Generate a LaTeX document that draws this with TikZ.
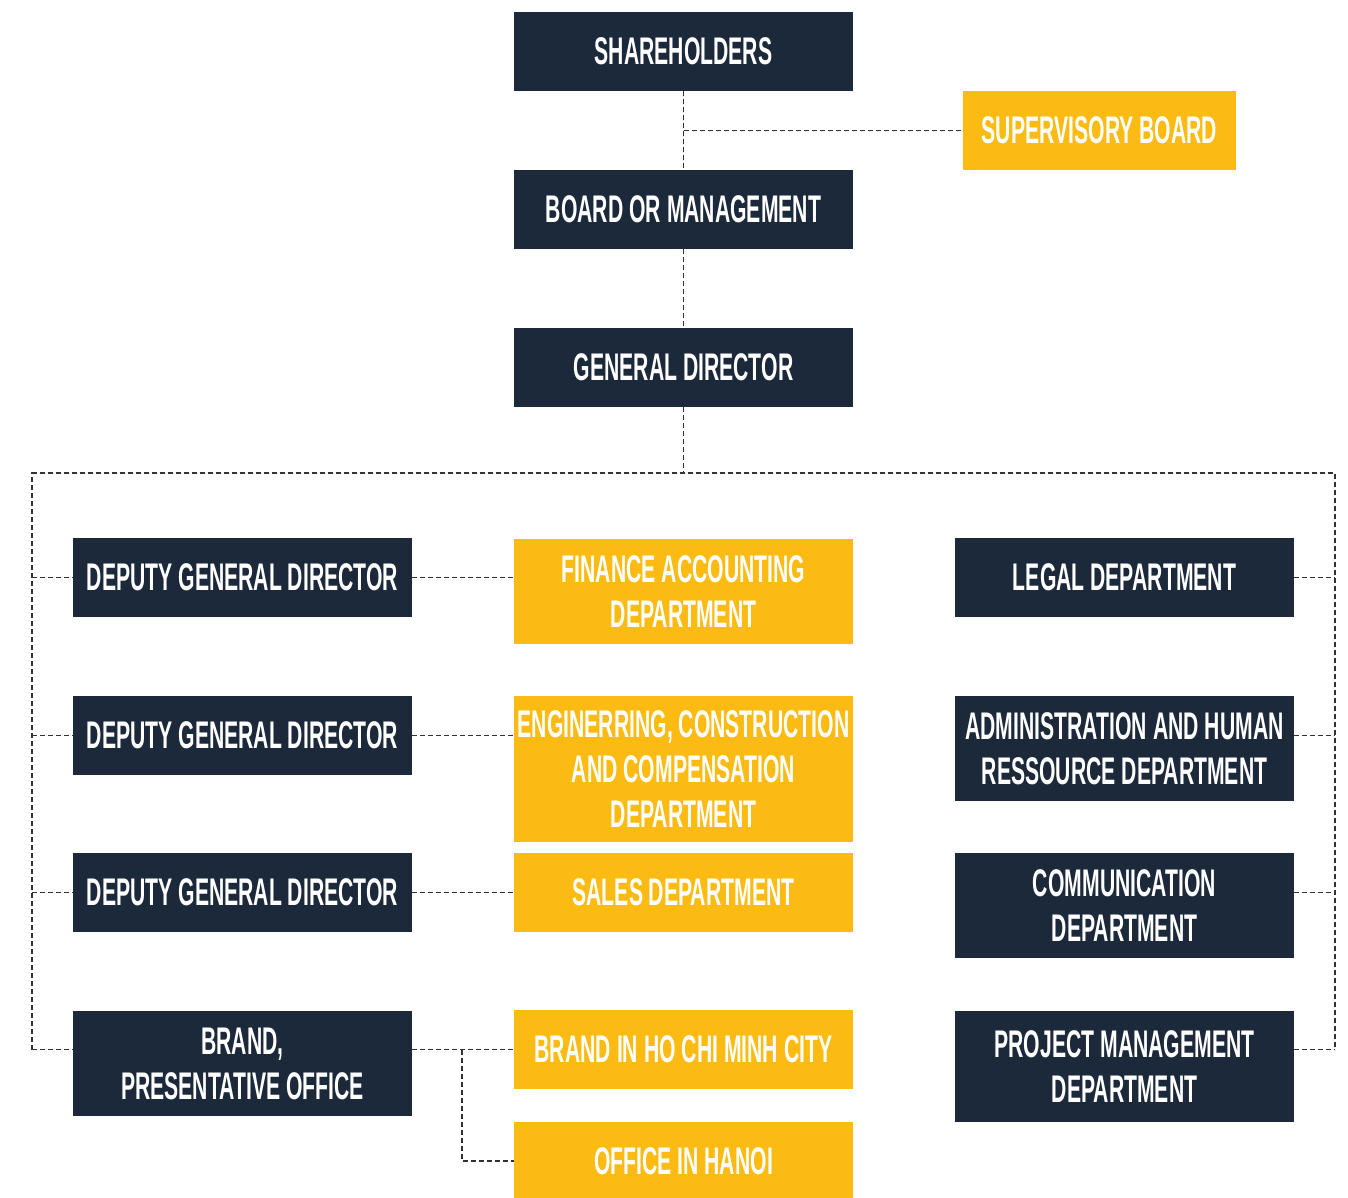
\documentclass[tikz,border=0pt]{standalone}
\usepackage{fontspec}
\newfontfamily\condfont{Liberation Sans}[FakeStretch=0.55]
\definecolor{navy}{RGB}{27,41,59}
\definecolor{gold}{RGB}{252,187,18}
\definecolor{linegray}{RGB}{50,50,50}
\begin{document}
\begin{tikzpicture}[x=1pt,y=-1pt,
  box/.style={inner sep=0pt, outer sep=0pt, text=white, align=center, minimum width=339pt,
    font=\condfont\bfseries\fontsize{38.5}{45}\selectfont},
  navybox/.style={box, fill=navy},
  goldbox/.style={box, fill=gold},
  link/.style={draw=linegray, line width=1.2pt, dash pattern=on 5pt off 3pt}]
\useasboundingbox[fill=white] (0,0) rectangle (1348,1198);

% top chain
\node[navybox, minimum height=79pt] (SH) at (683.5,51.5) {SHAREHOLDERS};
\node[goldbox, minimum height=79pt, minimum width=273pt] (SB) at (1099.5,130.5) {SUPERVISORY BOARD};
\node[navybox, minimum height=79pt] (BM) at (683.5,209.5) {BOARD OR MANAGEMENT};
\node[navybox, minimum height=79pt] (GD) at (683.5,367.5) {GENERAL DIRECTOR};

% left column
\node[navybox, minimum height=79pt] (DGD1) at (242.5,577.5) {DEPUTY GENERAL DIRECTOR};
\node[navybox, minimum height=79pt] (DGD2) at (242.5,735.5) {DEPUTY GENERAL DIRECTOR};
\node[navybox, minimum height=79pt] (DGD3) at (242.5,892.5) {DEPUTY GENERAL DIRECTOR};
\node[navybox, minimum height=105pt] (BRAND) at (242.5,1063.5) {BRAND,\\PRESENTATIVE OFFICE};

% middle column
\node[goldbox, minimum height=105pt] (FIN) at (683.5,591.5) {FINANCE ACCOUNTING\\DEPARTMENT};
\node[goldbox, minimum height=146pt] (ENG) at (683.5,769) {ENGINERRING, CONSTRUCTION\\AND COMPENSATION\\DEPARTMENT};
\node[goldbox, minimum height=79pt] (SALES) at (683.5,892.5) {SALES DEPARTMENT};
\node[goldbox, minimum height=79pt] (HCMC) at (683.5,1049.5) {BRAND IN HO CHI MINH CITY};
\node[goldbox, minimum height=78pt] (HANOI) at (683.5,1161) {OFFICE IN HANOI};

% right column
\node[navybox, minimum height=79pt] (LEGAL) at (1124.5,577.5) {LEGAL DEPARTMENT};
\node[navybox, minimum height=105pt] (ADMIN) at (1124.5,748.5) {ADMINISTRATION AND HUMAN\\RESSOURCE DEPARTMENT};
\node[navybox, minimum height=105pt] (COMM) at (1124.5,905.5) {COMMUNICATION\\DEPARTMENT};
\node[navybox, minimum height=111pt] (PROJ) at (1124.5,1066.5) {PROJECT MANAGEMENT\\DEPARTMENT};

% bus coordinates
\coordinate (busL) at (32,473);
\coordinate (busR) at (1335,473);
\coordinate (J) at (462,1049.5);

% top connectors
\draw[link] (SH.south) -- (BM.north);
\draw[link] (SH.south |- SB.west) -- (SB.west);
\draw[link] (BM.south) -- (GD.north);
\draw[link] (GD.south) -- (GD.south |- busL);
\draw[link] (busL |- HCMC) -- (busL) -- (busR) -- (busR |- HCMC);

% left ticks
\draw[link] (busL |- DGD1) -- (DGD1.west);
\draw[link] (busL |- DGD2) -- (DGD2.west);
\draw[link] (busL |- DGD3) -- (DGD3.west);
\draw[link] (busL |- HCMC) -- (BRAND.west |- HCMC);

% left to middle
\draw[link] (DGD1.east) -- (FIN.west |- DGD1);
\draw[link] (DGD2.east) -- (ENG.west |- DGD2);
\draw[link] (DGD3.east) -- (SALES.west);
\draw[link] (BRAND.east |- HCMC) -- (HCMC.west);
\draw[link] (J) |- (HANOI.west);

% right ticks
\draw[link] (LEGAL.east) -- (busR |- LEGAL);
\draw[link] (ADMIN.east |- DGD2) -- (busR |- DGD2);
\draw[link] (COMM.east |- DGD3) -- (busR |- DGD3);
\draw[link] (PROJ.east |- HCMC) -- (busR |- HCMC);
\end{tikzpicture}
\end{document}
